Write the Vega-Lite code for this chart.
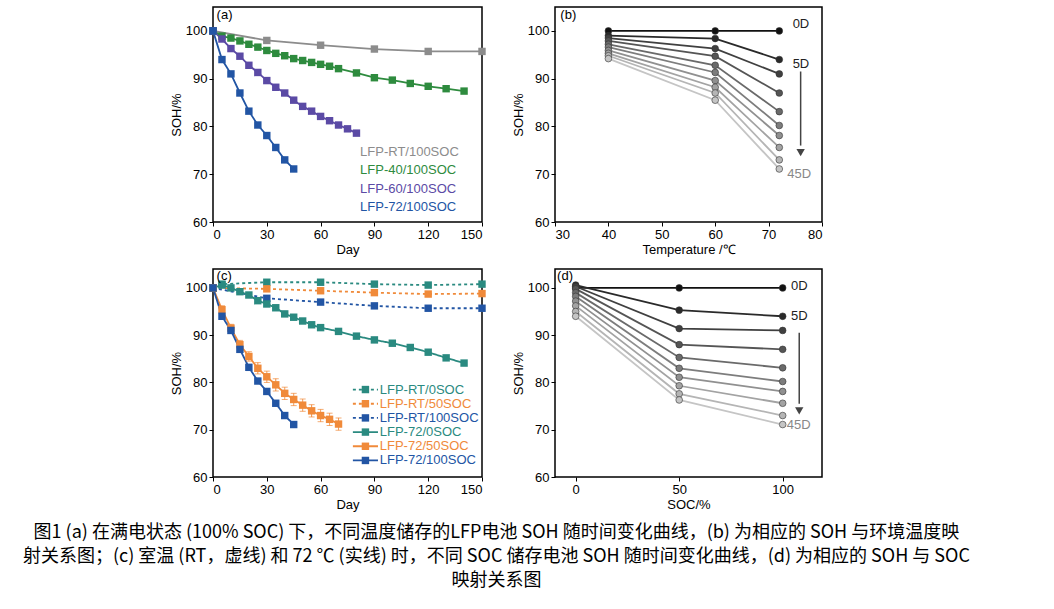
{
  "$schema": "https://vega.github.io/schema/vega-lite/v6.json",
  "background": "white",
  "padding": {"left": 22, "top": 6, "right": 0, "bottom": 5},
  "config": {
    "view": {"stroke": "black", "strokeWidth": 1.5},
    "font": "Liberation Sans",
    "axis": {"grid": false, "domain": false, "labelFontSize": 13, "titleFontSize": 13, "titleFontWeight": "normal", "labelColor": "black", "titleColor": "black", "tickColor": "black", "tickSize": 4, "titlePadding": 2}
  },
  "resolve": {"scale": {"color": "independent"}},
  "spacing": 11,
  "title": {"text": ["图1   (a) 在满电状态 (100% SOC) 下，不同温度储存的LFP电池 SOH 随时间变化曲线，(b) 为相应的 SOH 与环境温度映", "射关系图；(c) 室温 (RT，虚线) 和 72 ℃ (实线) 时，不同 SOC 储存电池 SOH 随时间变化曲线，(d) 为相应的 SOH 与 SOC", "映射关系图"], "orient": "bottom", "anchor": "middle", "font": "Noto Sans CJK SC", "fontSize": 18, "fontWeight": "normal", "lineHeight": 24, "offset": 12},
  "datasets": {
    "a": [
      {"s": "LFP-RT/100SOC", "day": 0, "soh": 100}, {"s": "LFP-RT/100SOC", "day": 30, "soh": 98}, {"s": "LFP-RT/100SOC", "day": 60, "soh": 97}, {"s": "LFP-RT/100SOC", "day": 90, "soh": 96.2}, {"s": "LFP-RT/100SOC", "day": 120, "soh": 95.7}, {"s": "LFP-RT/100SOC", "day": 150, "soh": 95.7},
      {"s": "LFP-40/100SOC", "day": 0, "soh": 100}, {"s": "LFP-40/100SOC", "day": 5, "soh": 98.9}, {"s": "LFP-40/100SOC", "day": 10, "soh": 98.5}, {"s": "LFP-40/100SOC", "day": 15, "soh": 97.9}, {"s": "LFP-40/100SOC", "day": 20, "soh": 97.2}, {"s": "LFP-40/100SOC", "day": 25, "soh": 96.6}, {"s": "LFP-40/100SOC", "day": 30, "soh": 95.9}, {"s": "LFP-40/100SOC", "day": 35, "soh": 95.3}, {"s": "LFP-40/100SOC", "day": 40, "soh": 94.8}, {"s": "LFP-40/100SOC", "day": 45, "soh": 94.2}, {"s": "LFP-40/100SOC", "day": 50, "soh": 93.8}, {"s": "LFP-40/100SOC", "day": 55, "soh": 93.4}, {"s": "LFP-40/100SOC", "day": 60, "soh": 93.0}, {"s": "LFP-40/100SOC", "day": 65, "soh": 92.6}, {"s": "LFP-40/100SOC", "day": 70, "soh": 92.1}, {"s": "LFP-40/100SOC", "day": 80, "soh": 91.2}, {"s": "LFP-40/100SOC", "day": 90, "soh": 90.2}, {"s": "LFP-40/100SOC", "day": 100, "soh": 89.7}, {"s": "LFP-40/100SOC", "day": 110, "soh": 89.0}, {"s": "LFP-40/100SOC", "day": 120, "soh": 88.4}, {"s": "LFP-40/100SOC", "day": 130, "soh": 87.9}, {"s": "LFP-40/100SOC", "day": 140, "soh": 87.4},
      {"s": "LFP-60/100SOC", "day": 0, "soh": 100}, {"s": "LFP-60/100SOC", "day": 5, "soh": 98.3}, {"s": "LFP-60/100SOC", "day": 10, "soh": 96.3}, {"s": "LFP-60/100SOC", "day": 15, "soh": 94.7}, {"s": "LFP-60/100SOC", "day": 20, "soh": 92.8}, {"s": "LFP-60/100SOC", "day": 25, "soh": 91.3}, {"s": "LFP-60/100SOC", "day": 30, "soh": 89.6}, {"s": "LFP-60/100SOC", "day": 35, "soh": 88.2}, {"s": "LFP-60/100SOC", "day": 40, "soh": 87.0}, {"s": "LFP-60/100SOC", "day": 45, "soh": 85.5}, {"s": "LFP-60/100SOC", "day": 50, "soh": 84.2}, {"s": "LFP-60/100SOC", "day": 55, "soh": 83.2}, {"s": "LFP-60/100SOC", "day": 60, "soh": 82.1}, {"s": "LFP-60/100SOC", "day": 65, "soh": 81.2}, {"s": "LFP-60/100SOC", "day": 70, "soh": 80.3}, {"s": "LFP-60/100SOC", "day": 75, "soh": 79.5}, {"s": "LFP-60/100SOC", "day": 80, "soh": 78.6},
      {"s": "LFP-72/100SOC", "day": 0, "soh": 100}, {"s": "LFP-72/100SOC", "day": 5, "soh": 94}, {"s": "LFP-72/100SOC", "day": 10, "soh": 91}, {"s": "LFP-72/100SOC", "day": 15, "soh": 87}, {"s": "LFP-72/100SOC", "day": 20, "soh": 83.2}, {"s": "LFP-72/100SOC", "day": 25, "soh": 80.3}, {"s": "LFP-72/100SOC", "day": 30, "soh": 78.1}, {"s": "LFP-72/100SOC", "day": 35, "soh": 75.6}, {"s": "LFP-72/100SOC", "day": 40, "soh": 73}, {"s": "LFP-72/100SOC", "day": 45, "soh": 71.1}
    ],
    "alab": [
      {"s": "LFP-RT/100SOC", "day": 82, "soh": 74.6}, {"s": "LFP-40/100SOC", "day": 82, "soh": 70.8}, {"s": "LFP-60/100SOC", "day": 82, "soh": 67.0}, {"s": "LFP-72/100SOC", "day": 82, "soh": 63.2}
    ],
    "clab": [
      {"s": "LFP-RT/0SOC", "x1": 78, "x2": 92, "xm": 85, "xt": 93, "soh": 78.5},
      {"s": "LFP-RT/50SOC", "x1": 78, "x2": 92, "xm": 85, "xt": 93, "soh": 75.5},
      {"s": "LFP-RT/100SOC", "x1": 78, "x2": 92, "xm": 85, "xt": 93, "soh": 72.5},
      {"s": "LFP-72/0SOC", "x1": 78, "x2": 92, "xm": 85, "xt": 93, "soh": 69.5},
      {"s": "LFP-72/50SOC", "x1": 78, "x2": 92, "xm": 85, "xt": 93, "soh": 66.5},
      {"s": "LFP-72/100SOC", "x1": 78, "x2": 92, "xm": 85, "xt": 93, "soh": 63.5}
    ],
    "c": [
      {"s": "LFP-RT/0SOC", "day": 0, "soh": 100}, {"s": "LFP-RT/0SOC", "day": 5, "soh": 100.8}, {"s": "LFP-RT/0SOC", "day": 30, "soh": 101.2}, {"s": "LFP-RT/0SOC", "day": 60, "soh": 101.2}, {"s": "LFP-RT/0SOC", "day": 90, "soh": 100.8}, {"s": "LFP-RT/0SOC", "day": 120, "soh": 100.6}, {"s": "LFP-RT/0SOC", "day": 150, "soh": 100.8},
      {"s": "LFP-RT/50SOC", "day": 0, "soh": 100}, {"s": "LFP-RT/50SOC", "day": 30, "soh": 99.8}, {"s": "LFP-RT/50SOC", "day": 60, "soh": 99.4}, {"s": "LFP-RT/50SOC", "day": 90, "soh": 99}, {"s": "LFP-RT/50SOC", "day": 120, "soh": 98.7}, {"s": "LFP-RT/50SOC", "day": 150, "soh": 98.8},
      {"s": "LFP-RT/100SOC", "day": 0, "soh": 100}, {"s": "LFP-RT/100SOC", "day": 30, "soh": 97.8}, {"s": "LFP-RT/100SOC", "day": 60, "soh": 97}, {"s": "LFP-RT/100SOC", "day": 90, "soh": 96.2}, {"s": "LFP-RT/100SOC", "day": 120, "soh": 95.7}, {"s": "LFP-RT/100SOC", "day": 150, "soh": 95.7},
      {"s": "LFP-72/0SOC", "day": 0, "soh": 100}, {"s": "LFP-72/0SOC", "day": 5, "soh": 100.6}, {"s": "LFP-72/0SOC", "day": 10, "soh": 100}, {"s": "LFP-72/0SOC", "day": 15, "soh": 99.2}, {"s": "LFP-72/0SOC", "day": 20, "soh": 98.5}, {"s": "LFP-72/0SOC", "day": 25, "soh": 97.3}, {"s": "LFP-72/0SOC", "day": 30, "soh": 96.6}, {"s": "LFP-72/0SOC", "day": 35, "soh": 95.8}, {"s": "LFP-72/0SOC", "day": 40, "soh": 94.5}, {"s": "LFP-72/0SOC", "day": 45, "soh": 93.8}, {"s": "LFP-72/0SOC", "day": 50, "soh": 93}, {"s": "LFP-72/0SOC", "day": 55, "soh": 92.2}, {"s": "LFP-72/0SOC", "day": 60, "soh": 91.6}, {"s": "LFP-72/0SOC", "day": 70, "soh": 90.8}, {"s": "LFP-72/0SOC", "day": 80, "soh": 89.8}, {"s": "LFP-72/0SOC", "day": 90, "soh": 89}, {"s": "LFP-72/0SOC", "day": 100, "soh": 88.3}, {"s": "LFP-72/0SOC", "day": 110, "soh": 87.4}, {"s": "LFP-72/0SOC", "day": 120, "soh": 86.4}, {"s": "LFP-72/0SOC", "day": 130, "soh": 85.2}, {"s": "LFP-72/0SOC", "day": 140, "soh": 84.1},
      {"s": "LFP-72/50SOC", "day": 0, "soh": 100, "lo": 100, "hi": 100}, {"s": "LFP-72/50SOC", "day": 5, "soh": 95.4, "lo": 94.6, "hi": 96.2}, {"s": "LFP-72/50SOC", "day": 10, "soh": 91.5, "lo": 90.7, "hi": 92.3}, {"s": "LFP-72/50SOC", "day": 15, "soh": 88, "lo": 87.1, "hi": 88.9}, {"s": "LFP-72/50SOC", "day": 20, "soh": 85.5, "lo": 84.5, "hi": 86.5}, {"s": "LFP-72/50SOC", "day": 25, "soh": 83, "lo": 81.8, "hi": 84.2}, {"s": "LFP-72/50SOC", "day": 30, "soh": 81.2, "lo": 80, "hi": 82.4}, {"s": "LFP-72/50SOC", "day": 35, "soh": 79.5, "lo": 78.2, "hi": 80.8}, {"s": "LFP-72/50SOC", "day": 40, "soh": 77.7, "lo": 76.4, "hi": 79}, {"s": "LFP-72/50SOC", "day": 45, "soh": 76.4, "lo": 75.1, "hi": 77.7}, {"s": "LFP-72/50SOC", "day": 50, "soh": 75.2, "lo": 73.9, "hi": 76.5}, {"s": "LFP-72/50SOC", "day": 55, "soh": 74, "lo": 72.7, "hi": 75.3}, {"s": "LFP-72/50SOC", "day": 60, "soh": 73, "lo": 71.7, "hi": 74.3}, {"s": "LFP-72/50SOC", "day": 65, "soh": 72.2, "lo": 70.9, "hi": 73.5}, {"s": "LFP-72/50SOC", "day": 70, "soh": 71.2, "lo": 69.9, "hi": 72.5},
      {"s": "LFP-72/100SOC", "day": 0, "soh": 100}, {"s": "LFP-72/100SOC", "day": 5, "soh": 94}, {"s": "LFP-72/100SOC", "day": 10, "soh": 91}, {"s": "LFP-72/100SOC", "day": 15, "soh": 87}, {"s": "LFP-72/100SOC", "day": 20, "soh": 83.2}, {"s": "LFP-72/100SOC", "day": 25, "soh": 80.3}, {"s": "LFP-72/100SOC", "day": 30, "soh": 78.1}, {"s": "LFP-72/100SOC", "day": 35, "soh": 75.6}, {"s": "LFP-72/100SOC", "day": 40, "soh": 73}, {"s": "LFP-72/100SOC", "day": 45, "soh": 71.1}
    ],
    "b": [
      {"d": 0, "t": 40, "s": 100}, {"d": 0, "t": 60, "s": 100}, {"d": 0, "t": 72, "s": 100},
      {"d": 5, "t": 40, "s": 99}, {"d": 5, "t": 60, "s": 98.4}, {"d": 5, "t": 72, "s": 94},
      {"d": 10, "t": 40, "s": 98.5}, {"d": 10, "t": 60, "s": 96.3}, {"d": 10, "t": 72, "s": 91},
      {"d": 15, "t": 40, "s": 97.9}, {"d": 15, "t": 60, "s": 94.7}, {"d": 15, "t": 72, "s": 87},
      {"d": 20, "t": 40, "s": 97.2}, {"d": 20, "t": 60, "s": 92.8}, {"d": 20, "t": 72, "s": 83.1},
      {"d": 25, "t": 40, "s": 96.6}, {"d": 25, "t": 60, "s": 91.3}, {"d": 25, "t": 72, "s": 80.2},
      {"d": 30, "t": 40, "s": 95.9}, {"d": 30, "t": 60, "s": 89.6}, {"d": 30, "t": 72, "s": 78.1},
      {"d": 35, "t": 40, "s": 95.3}, {"d": 35, "t": 60, "s": 88.2}, {"d": 35, "t": 72, "s": 75.6},
      {"d": 40, "t": 40, "s": 94.8}, {"d": 40, "t": 60, "s": 87}, {"d": 40, "t": 72, "s": 73},
      {"d": 45, "t": 40, "s": 94.2}, {"d": 45, "t": 60, "s": 85.5}, {"d": 45, "t": 72, "s": 71.1}
    ],
    "dd": [
      {"d": 0, "t": 0, "s": 100}, {"d": 0, "t": 50, "s": 100}, {"d": 0, "t": 100, "s": 100},
      {"d": 5, "t": 0, "s": 100.6}, {"d": 5, "t": 50, "s": 95.3}, {"d": 5, "t": 100, "s": 94},
      {"d": 10, "t": 0, "s": 100.3}, {"d": 10, "t": 50, "s": 91.4}, {"d": 10, "t": 100, "s": 91},
      {"d": 15, "t": 0, "s": 99.8}, {"d": 15, "t": 50, "s": 88}, {"d": 15, "t": 100, "s": 87},
      {"d": 20, "t": 0, "s": 99}, {"d": 20, "t": 50, "s": 85.3}, {"d": 20, "t": 100, "s": 83.1},
      {"d": 25, "t": 0, "s": 98.2}, {"d": 25, "t": 50, "s": 83}, {"d": 25, "t": 100, "s": 80.2},
      {"d": 30, "t": 0, "s": 97.2}, {"d": 30, "t": 50, "s": 81.1}, {"d": 30, "t": 100, "s": 78.1},
      {"d": 35, "t": 0, "s": 96.2}, {"d": 35, "t": 50, "s": 79.3}, {"d": 35, "t": 100, "s": 75.6},
      {"d": 40, "t": 0, "s": 95}, {"d": 40, "t": 50, "s": 77.6}, {"d": 40, "t": 100, "s": 73},
      {"d": 45, "t": 0, "s": 94}, {"d": 45, "t": 50, "s": 76.3}, {"d": 45, "t": 100, "s": 71.1}
    ]
  },
  "vconcat": [
    {"hconcat": [
      {"width": 269, "height": 215,
       "encoding": {
         "x": {"field": "day", "type": "quantitative", "scale": {"domain": [0, 150], "nice": false}, "axis": {"values": [0, 30, 60, 90, 120, 150], "title": "Day"}},
         "y": {"field": "soh", "type": "quantitative", "scale": {"domain": [60, 105], "nice": false}, "axis": {"values": [60, 70, 80, 90, 100], "title": "SOH/%"}},
         "color": {"field": "s", "type": "nominal", "legend": null, "scale": {"domain": ["LFP-RT/100SOC", "LFP-40/100SOC", "LFP-60/100SOC", "LFP-72/100SOC"], "range": ["#8c8c8c", "#2e8b3e", "#5b4aa5", "#2255a4"]}}
       },
       "layer": [
         {"data": {"name": "a"}, "mark": {"type": "line", "strokeWidth": 1.8}},
         {"data": {"name": "a"}, "mark": {"type": "point", "shape": "square", "filled": true, "size": 55, "opacity": 1}},
         {"data": {"name": "alab"}, "mark": {"type": "text", "align": "left", "fontSize": 13}, "encoding": {"text": {"field": "s"}}},
         {"data": {"values": [{"day": 2, "soh": 103.4, "l": "(a)"}]}, "mark": {"type": "text", "align": "left", "fontSize": 13}, "encoding": {"text": {"field": "l"}, "color": {"value": "black"}}}
       ]},
      {"width": 267, "height": 215,
       "encoding": {
         "x": {"field": "t", "type": "quantitative", "scale": {"domain": [30, 80], "nice": false}, "axis": {"values": [30, 40, 50, 60, 70, 80], "title": "Temperature /℃"}},
         "y": {"field": "s", "type": "quantitative", "scale": {"domain": [60, 105], "nice": false}, "axis": {"values": [60, 70, 80, 90, 100], "title": "SOH/%"}}
       },
       "layer": [
         {"data": {"name": "b"}, "mark": {"type": "line", "strokeWidth": 1.8}, "encoding": {"color": {"field": "d", "type": "ordinal", "legend": null, "scale": {"range": ["#111111", "#2a2a2a", "#404040", "#555555", "#6a6a6a", "#7d7d7d", "#909090", "#a3a3a3", "#b5b5b5", "#c5c5c5"]}}}},
         {"data": {"name": "b"}, "mark": {"type": "point", "shape": "circle", "filled": true, "size": 45, "opacity": 1, "stroke": "#333", "strokeWidth": 0.6}, "encoding": {"color": {"field": "d", "type": "ordinal", "legend": null}}},
         {"data": {"values": [{"t": 76, "s": 91.5, "s2": 76}]}, "mark": {"type": "rule", "color": "#444", "strokeWidth": 1.5}, "encoding": {"y2": {"field": "s2"}}},
         {"data": {"values": [{"t": 76, "s": 74.5}]}, "mark": {"type": "point", "shape": "triangle-down", "filled": true, "size": 70, "color": "#444", "opacity": 1}},
         {"data": {"values": [{"t": 74.5, "s": 101.5, "l": "0D", "c": "#222"}, {"t": 74.5, "s": 93, "l": "5D", "c": "#222"}, {"t": 73.5, "s": 70, "l": "45D", "c": "#888"}]}, "mark": {"type": "text", "align": "left", "fontSize": 13}, "encoding": {"text": {"field": "l"}, "color": {"field": "c", "type": "nominal", "scale": null}}},
         {"data": {"values": [{"t": 31, "s": 103.4, "l": "(b)"}]}, "mark": {"type": "text", "align": "left", "fontSize": 13, "color": "black"}, "encoding": {"text": {"field": "l"}}}
       ]}
    ], "spacing": 24, "resolve": {"scale": {"color": "independent"}}},
    {"hconcat": [
      {"width": 269, "height": 208,
       "encoding": {
         "x": {"field": "day", "type": "quantitative", "scale": {"domain": [0, 150], "nice": false}, "axis": {"values": [0, 30, 60, 90, 120, 150], "title": "Day"}},
         "y": {"field": "soh", "type": "quantitative", "scale": {"domain": [60, 104], "nice": false}, "axis": {"values": [60, 70, 80, 90, 100], "title": "SOH/%"}},
         "color": {"field": "s", "type": "nominal", "legend": null, "scale": {"domain": ["LFP-RT/0SOC", "LFP-RT/50SOC", "LFP-RT/100SOC", "LFP-72/0SOC", "LFP-72/50SOC", "LFP-72/100SOC"], "range": ["#2a8a80", "#f08a3a", "#2255a4", "#2a8a80", "#f08a3a", "#2255a4"]}},
         "strokeDash": {"field": "s", "type": "nominal", "legend": null, "scale": {"domain": ["LFP-RT/0SOC", "LFP-RT/50SOC", "LFP-RT/100SOC", "LFP-72/0SOC", "LFP-72/50SOC", "LFP-72/100SOC"], "range": [[3, 3], [3, 3], [3, 3], [1, 0], [1, 0], [1, 0]]}}
       },
       "layer": [
         {"data": {"name": "c"}, "mark": {"type": "line", "strokeWidth": 1.8}},
         {"data": {"name": "c"}, "transform": [{"filter": "datum.lo != null"}], "mark": {"type": "errorbar", "ticks": {"size": 6}, "color": "#f08a3a"}, "encoding": {"y": {"field": "lo", "type": "quantitative"}, "y2": {"field": "hi"}, "color": {"value": "#f08a3a"}, "strokeDash": {"value": [1, 0]}}},
         {"data": {"name": "c"}, "mark": {"type": "point", "shape": "square", "filled": true, "size": 55, "opacity": 1}, "encoding": {"strokeDash": {"value": [1, 0]}}},
         {"data": {"name": "clab"}, "mark": {"type": "rule", "strokeWidth": 1.8}, "encoding": {"x": {"field": "x1", "type": "quantitative"}, "x2": {"field": "x2"}}},
         {"data": {"name": "clab"}, "mark": {"type": "point", "shape": "square", "filled": true, "size": 55, "opacity": 1}, "encoding": {"x": {"field": "xm", "type": "quantitative"}, "strokeDash": {"value": [1, 0]}}},
         {"data": {"name": "clab"}, "mark": {"type": "text", "align": "left", "fontSize": 13}, "encoding": {"x": {"field": "xt", "type": "quantitative"}, "text": {"field": "s"}, "strokeDash": {"value": [1, 0]}}},
         {"data": {"values": [{"day": 2, "soh": 102.6, "l": "(c)"}]}, "mark": {"type": "text", "align": "left", "fontSize": 13}, "encoding": {"text": {"field": "l"}, "color": {"value": "black"}, "strokeDash": {"value": [1, 0]}}}
       ]},
      {"width": 267, "height": 208,
       "encoding": {
         "x": {"field": "t", "type": "quantitative", "scale": {"domain": [-10, 119], "nice": false}, "axis": {"values": [0, 50, 100], "title": "SOC/%"}},
         "y": {"field": "s", "type": "quantitative", "scale": {"domain": [60, 104], "nice": false}, "axis": {"values": [60, 70, 80, 90, 100], "title": "SOH/%"}}
       },
       "layer": [
         {"data": {"name": "dd"}, "mark": {"type": "line", "strokeWidth": 1.8}, "encoding": {"color": {"field": "d", "type": "ordinal", "legend": null, "scale": {"range": ["#111111", "#2a2a2a", "#404040", "#555555", "#6a6a6a", "#7d7d7d", "#909090", "#a3a3a3", "#b5b5b5", "#c5c5c5"]}}}},
         {"data": {"name": "dd"}, "mark": {"type": "point", "shape": "circle", "filled": true, "size": 45, "opacity": 1, "stroke": "#333", "strokeWidth": 0.6}, "encoding": {"color": {"field": "d", "type": "ordinal", "legend": null}}},
         {"data": {"values": [{"t": 108, "s": 90.5, "s2": 75.5}]}, "mark": {"type": "rule", "color": "#444", "strokeWidth": 1.5}, "encoding": {"y2": {"field": "s2"}}},
         {"data": {"values": [{"t": 108, "s": 74}]}, "mark": {"type": "point", "shape": "triangle-down", "filled": true, "size": 70, "color": "#444", "opacity": 1}},
         {"data": {"values": [{"t": 104, "s": 100.3, "l": "0D", "c": "#222"}, {"t": 104, "s": 94, "l": "5D", "c": "#222"}, {"t": 102, "s": 71, "l": "45D", "c": "#888"}]}, "mark": {"type": "text", "align": "left", "fontSize": 13}, "encoding": {"text": {"field": "l"}, "color": {"field": "c", "type": "nominal", "scale": null}}},
         {"data": {"values": [{"t": -9, "s": 102.6, "l": "(d)"}]}, "mark": {"type": "text", "align": "left", "fontSize": 13, "color": "black"}, "encoding": {"text": {"field": "l"}}}
       ]}
    ], "spacing": 24, "resolve": {"scale": {"color": "independent"}}}
  ]
}
